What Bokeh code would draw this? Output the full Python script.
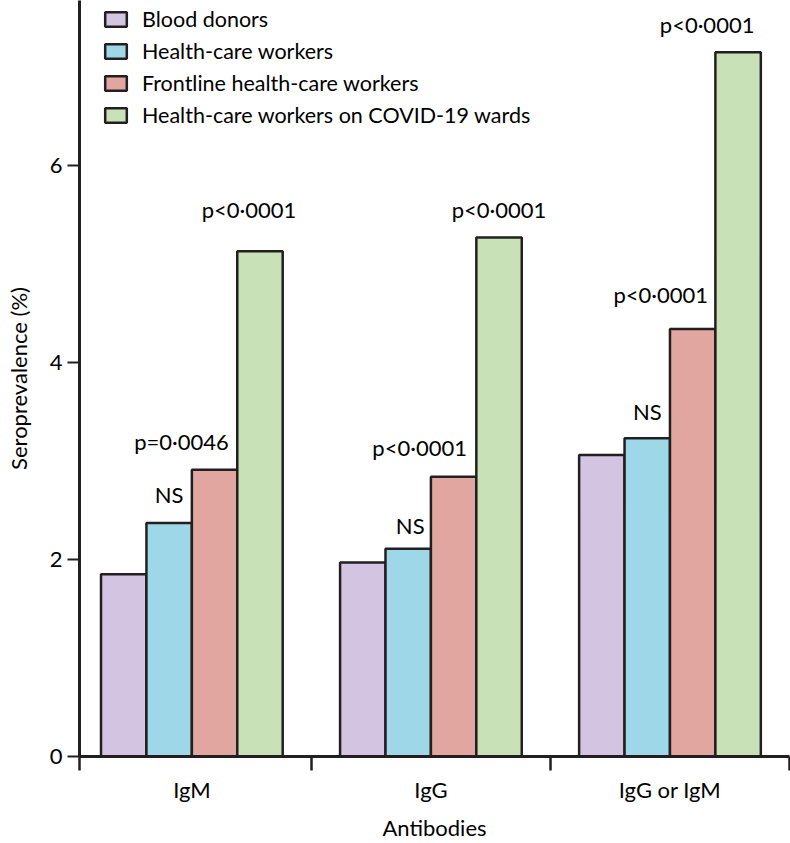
from bokeh.plotting import figure
from bokeh.models import (Range1d, FixedTicker, Legend, LegendItem,
                          ColumnDataSource, LabelSet)
from bokeh.core.properties import value
from bokeh.embed import file_html
from bokeh.resources import INLINE

# ---- data ----
groups = ["IgM", "IgG", "IgG or IgM"]
series = ["Blood donors", "Health-care workers",
          "Frontline health-care workers", "Health-care workers on COVID-19 wards"]
blood_donors = [1.85, 1.97, 3.06]
health_care_workers = [2.37, 2.11, 3.23]
frontline_workers = [2.91, 2.84, 4.34]
covid_ward_workers = [5.13, 5.27, 7.15]
values = [blood_donors, health_care_workers, frontline_workers, covid_ward_workers]
# p-value annotations for series 2..4 in each group
p_labels = [["NS", "p=0·0046", "p<0·0001"],
            ["NS", "p<0·0001", "p<0·0001"],
            ["NS", "p<0·0001", "p<0·0001"]]
y_ticks = [0, 2, 4, 6]

# ---- style ----
FONT = "Lato"
INK = "#231f20"
colors = ["#d3c5e1", "#9ed8e8", "#e2a6a1", "#c9e1b7"]
label_dx = [[0, -33, -11], [2, -34, 0], [0, -32, -31]]
label_dy = [[20, 20, 33], [15, 21, 19], [18, 26, 19]]
BAR_W = 0.19
X0, X1 = 0.03, 3.0
FRAME_W, FRAME_H = 710, 756

p = figure(frame_width=FRAME_W, frame_height=FRAME_H, output_backend="svg",
           toolbar_location=None,
           x_range=Range1d(X0, X1), y_range=Range1d(0, 7.675),
           min_border_left=79, min_border_right=1, min_border_top=0,
           min_border_bottom=87)
p.outline_line_color = None
p.xgrid.visible = False
p.ygrid.visible = False

centers = [i + 0.5 for i in range(len(groups))]
renderers = []
for j, s in enumerate(series):
    xs = [c + (j - 1.5) * BAR_W for c in centers]
    r = p.vbar(x=xs, top=values[j], width=BAR_W, bottom=0,
               fill_color=colors[j], line_color=INK, line_width=2.5)
    renderers.append(r)

# annotations
lx, ly, lt, ldx, ldy = [], [], [], [], []
for i, c in enumerate(centers):
    for k in range(3):
        j = k + 1
        lx.append(c + (j - 1.5) * BAR_W)
        ly.append(values[j][i])
        lt.append(p_labels[i][k])
        ldx.append(label_dx[i][k])
        ldy.append(label_dy[i][k])
src = ColumnDataSource(dict(x=lx, y=ly, t=lt, dx=ldx, dy=ldy))
labels = LabelSet(x="x", y="y", text="t", x_offset="dx", y_offset="dy", source=src,
                  text_align="center", text_baseline="alphabetic",
                  text_font=value(FONT), text_font_size="22px", text_color="black")
p.add_layout(labels)

# axes
xa = p.xaxis[0]
xa.ticker = FixedTicker(ticks=centers, minor_ticks=[X0, 1, 2, X1])
xa.major_label_overrides = {c: g for c, g in zip(centers, groups)}
xa.major_tick_out = 0
xa.major_tick_in = 0
xa.minor_tick_out = 14
xa.minor_tick_in = 0
xa.minor_tick_line_width = 2.5
xa.minor_tick_line_color = INK
xa.axis_line_width = 3
xa.axis_line_color = INK
xa.major_label_standoff = 5
xa.major_label_text_font = FONT
xa.major_label_text_font_size = "22px"
xa.major_label_text_color = "black"
xa.axis_label = "Antibodies"
xa.axis_label_text_font = FONT
xa.axis_label_text_font_size = "22px"
xa.axis_label_text_font_style = "normal"
xa.axis_label_text_color = "black"
xa.axis_label_standoff = 8

ya = p.yaxis[0]
ya.ticker = FixedTicker(ticks=y_ticks, minor_ticks=[])
ya.major_tick_out = 12
ya.major_tick_in = 0
ya.major_tick_line_width = 2
ya.major_tick_line_color = INK
ya.axis_line_width = 3
ya.axis_line_color = INK
ya.major_label_standoff = 5
ya.major_label_text_font = FONT
ya.major_label_text_font_size = "22px"
ya.major_label_text_color = "black"
ya.axis_label = "Seroprevalence (%)"
ya.axis_label_text_font = FONT
ya.axis_label_text_font_size = "22px"
ya.axis_label_text_font_style = "normal"
ya.axis_label_text_color = "black"
ya.axis_label_standoff = 15

LABEL_H, SPACING = 26, 6
legend_h = 4 * LABEL_H + 3 * SPACING
legend = Legend(items=[LegendItem(label=value(s), renderers=[r])
                       for s, r in zip(series, renderers)],
                location=(23, FRAME_H - legend_h - 6), glyph_width=27, glyph_height=18,
                label_height=LABEL_H, spacing=SPACING, padding=0, margin=0,
                label_standoff=13, label_text_font=FONT,
                label_text_font_size="21.5px", label_text_color="black",
                border_line_color=None, background_fill_alpha=0)
p.add_layout(legend)

open("out.html", "w").write(file_html(p, INLINE))
